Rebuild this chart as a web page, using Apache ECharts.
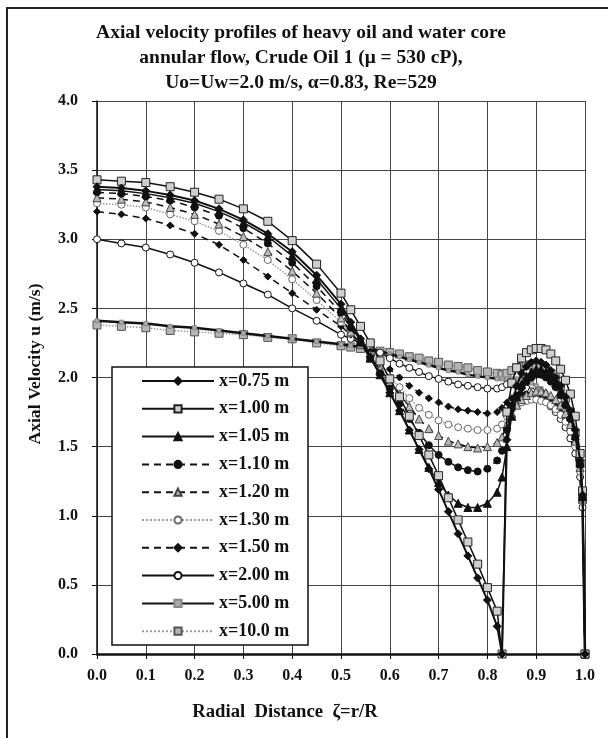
<!DOCTYPE html>
<html>
<head>
<meta charset="utf-8">
<script src="https://cdn.jsdelivr.net/npm/echarts@6/dist/echarts.min.js"></script>
<style>
html,body{margin:0;padding:0;background:#fff;}
#c{width:608px;height:738px;}
</style>
</head>
<body>
<div id="c"></div>
<script>
// Radial positions (zeta = r/R)
const R = [0,0.05,0.10,0.15,0.20,0.25,0.30,0.35,0.40,0.45,0.50,
  0.52,0.54,0.56,0.58,0.60,0.62,0.64,0.66,0.68,0.70,0.72,0.74,0.76,0.78,0.80,0.82,0.83,
  0.84,0.85,0.86,0.87,0.88,0.89,0.90,0.91,0.92,0.93,0.94,0.95,0.96,0.97,0.98,0.99,0.995,1.00];

const legendNames = ['x=0.75 m','x=1.00 m','x=1.05 m','x=1.10 m','x=1.20 m','x=1.30 m','x=1.50 m','x=2.00 m','x=5.00 m','x=10.0 m'];

const u075 = [3.38,3.37,3.35,3.32,3.28,3.22,3.14,3.04,2.91,2.74,2.53,
  2.40,2.28,2.15,2.02,1.89,1.76,1.62,1.48,1.34,1.19,1.03,0.87,0.71,0.55,0.39,0.20,0.00,
  1.55,1.80,1.94,2.03,2.08,2.11,2.12,2.11,2.09,2.05,2.00,1.94,1.86,1.76,1.62,1.40,1.15,0.00];
const u100 = [3.43,3.42,3.41,3.38,3.34,3.29,3.22,3.13,2.99,2.82,2.61,
  2.49,2.37,2.25,2.12,1.99,1.86,1.72,1.58,1.44,1.29,1.13,0.97,0.81,0.65,0.48,0.31,0.00,
  1.75,1.96,2.07,2.14,2.18,2.20,2.21,2.21,2.20,2.17,2.12,2.06,1.98,1.88,1.72,1.45,1.18,0.00];
const u105 = [3.36,3.35,3.33,3.30,3.26,3.20,3.12,3.02,2.88,2.71,2.50,
  2.38,2.26,2.14,2.02,1.89,1.76,1.62,1.48,1.35,1.24,1.15,1.09,1.06,1.06,1.09,1.17,1.28,
  1.50,1.72,1.86,1.95,2.01,2.04,2.06,2.06,2.04,2.01,1.96,1.90,1.82,1.72,1.58,1.38,1.14,0.00];
const u110 = [3.34,3.33,3.31,3.28,3.23,3.17,3.08,2.97,2.83,2.66,2.47,
  2.36,2.25,2.14,2.03,1.92,1.81,1.70,1.60,1.51,1.44,1.39,1.35,1.33,1.32,1.34,1.40,1.47,
  1.62,1.78,1.87,1.93,1.97,2.00,2.02,2.02,2.00,1.97,1.93,1.87,1.80,1.70,1.57,1.37,1.13,0.00];
const u120 = [3.30,3.29,3.27,3.23,3.18,3.11,3.02,2.91,2.77,2.61,2.43,
  2.33,2.24,2.15,2.06,1.97,1.88,1.79,1.70,1.63,1.58,1.54,1.52,1.50,1.49,1.50,1.53,1.57,
  1.66,1.74,1.80,1.84,1.87,1.89,1.90,1.90,1.89,1.87,1.84,1.80,1.74,1.66,1.54,1.35,1.12,0.00];
const u130 = [3.26,3.25,3.23,3.18,3.13,3.06,2.96,2.85,2.71,2.56,2.40,
  2.32,2.24,2.16,2.08,2.00,1.93,1.85,1.78,1.73,1.69,1.66,1.64,1.63,1.62,1.62,1.63,1.66,
  1.72,1.77,1.80,1.82,1.83,1.84,1.84,1.83,1.82,1.80,1.77,1.73,1.68,1.61,1.50,1.32,1.10,0.00];
const u150 = [3.20,3.18,3.15,3.10,3.04,2.96,2.85,2.73,2.61,2.49,2.37,
  2.31,2.25,2.19,2.12,2.06,2.00,1.94,1.89,1.85,1.82,1.79,1.77,1.76,1.75,1.74,1.75,1.78,
  1.82,1.85,1.87,1.88,1.88,1.88,1.87,1.86,1.84,1.82,1.79,1.75,1.70,1.62,1.51,1.33,1.10,0.00];
const u200 = [3.00,2.97,2.94,2.89,2.83,2.76,2.68,2.60,2.50,2.41,2.31,
  2.28,2.25,2.22,2.18,2.14,2.10,2.07,2.04,2.01,1.99,1.97,1.95,1.94,1.93,1.92,1.92,1.93,
  1.95,1.95,1.94,1.93,1.92,1.90,1.88,1.86,1.83,1.79,1.75,1.70,1.64,1.56,1.45,1.28,1.06,0.00];
const u500 = [2.41,2.40,2.39,2.37,2.36,2.34,2.32,2.30,2.28,2.26,2.24,
  2.23,2.22,2.21,2.19,2.17,2.15,2.13,2.11,2.09,2.07,2.05,2.04,2.02,2.01,2.00,1.99,1.99,
  1.99,1.99,1.99,1.98,1.97,1.96,1.94,1.92,1.89,1.85,1.80,1.74,1.67,1.58,1.46,1.28,1.05,0.00];
const u1000 = [2.38,2.37,2.36,2.34,2.33,2.32,2.31,2.29,2.28,2.25,2.23,
  2.22,2.21,2.20,2.19,2.18,2.17,2.15,2.14,2.12,2.11,2.09,2.08,2.07,2.05,2.04,2.03,2.02,
  2.03,2.05,2.07,2.08,2.09,2.09,2.09,2.08,2.06,2.03,1.99,1.93,1.85,1.75,1.60,1.38,1.12,0.00];

const xTicks = ['0.0','0.1','0.2','0.3','0.4','0.5','0.6','0.7','0.8','0.9','1.0'];
const yTicks = ['0.0','0.5','1.0','1.5','2.0','2.5','3.0','3.5','4.0'];

const values = [u075,u100,u105,u110,u120,u130,u150,u200,u500,u1000];
const styles = [
  {symbol:'diamond', size:8, fill:'#111', border:'#111', line:'#111', width:2, type:'solid'},
  {symbol:'rect', size:8, fill:'#cfcfcf', border:'#222', line:'#111', width:1.5, type:'solid'},
  {symbol:'triangle', size:8, fill:'#111', border:'#111', line:'#111', width:1.5, type:'solid'},
  {symbol:'circle', size:7, fill:'#111', border:'#111', line:'#111', width:1.5, type:[7,5]},
  {symbol:'triangle', size:8, fill:'#bbb', border:'#444', line:'#111', width:1.5, type:[7,5]},
  {symbol:'circle', size:7, fill:'#fff', border:'#666', line:'#999', width:1.5, type:'dotted'},
  {symbol:'diamond', size:7, fill:'#111', border:'#111', line:'#111', width:1.5, type:[7,5]},
  {symbol:'circle', size:7, fill:'#fff', border:'#111', line:'#111', width:1.5, type:'solid'},
  {symbol:'rect', size:4, fill:'#aaa', border:'#888', line:'#111', width:2.5, type:'solid'},
  {symbol:'rect', size:8, fill:'#b5b5b5', border:'#555', line:'#999', width:1.5, type:'dotted'}
];

const series = legendNames.map((name, k) => {
  const s = styles[k];
  return {
    name: name,
    type: 'line',
    data: R.map((r, i) => [r, values[k][i]]),
    showAllSymbol: true,
    symbol: s.symbol,
    symbolSize: s.size,
    lineStyle: {color: s.line, width: s.width, type: s.type},
    itemStyle: {color: s.fill, borderColor: s.border, borderWidth: 1},
    z: 20 - k,
    animation: false
  };
});

const serif = '"Liberation Serif","Times New Roman",serif';
const chart = echarts.init(document.getElementById('c'), null, {renderer: 'canvas'});
chart.setOption({
  backgroundColor: '#fff',
  animation: false,
  grid: {left: 97, right: 23, top: 101, bottom: 84, containLabel: false},
  xAxis: {
    type: 'value', min: 0, max: 1, interval: 0.1,
    axisLine: {show: true, lineStyle: {color: '#111', width: 2.5}},
    axisTick: {show: true, length: 5, lineStyle: {color: '#111', width: 1}},
    splitLine: {show: true, lineStyle: {color: '#444', width: 1}},
    axisLabel: {margin: 14, color: '#111', fontFamily: serif, fontWeight: 'bold', fontSize: 16,
      formatter: (v) => xTicks[Math.round(v * 10)]}
  },
  yAxis: {
    type: 'value', min: 0, max: 4, interval: 0.5,
    axisLine: {show: true, lineStyle: {color: '#111', width: 1.5}},
    axisTick: {show: true, length: 5, lineStyle: {color: '#111', width: 1}},
    splitLine: {show: true, lineStyle: {color: '#444', width: 1}},
    axisLabel: {margin: 19, color: '#111', fontFamily: serif, fontWeight: 'bold', fontSize: 16,
      formatter: (v) => yTicks[Math.round(v * 2)]}
  },
  legend: {
    data: legendNames,
    orient: 'vertical',
    left: 141, top: 372,
    padding: 0,
    itemWidth: 72, itemHeight: 9, itemGap: 9.8,
    backgroundColor: 'transparent',
    textStyle: {fontFamily: serif, fontSize: 18, fontWeight: 'bold', color: '#111'},
    z: 30
  },
  graphic: [
    {type: 'rect', z: 0, silent: true,
      shape: {x: 7, y: 8, width: 700, height: 800},
      style: {fill: 'none', stroke: '#222', lineWidth: 2}},
    {type: 'rect', z: 25, silent: true,
      shape: {x: 112, y: 367, width: 196, height: 278},
      style: {fill: '#fff', stroke: '#111', lineWidth: 1.5}},
    {type: 'text', z: 30, silent: true, x: 301, y: 20,
      style: {text: 'Axial velocity profiles of heavy oil and water core\nannular flow, Crude Oil 1 (\u03bc = 530 cP),\nUo=Uw=2.0 m/s, \u03b1=0.83, Re=529',
        font: 'bold 19.5px ' + serif, fill: '#111', textAlign: 'center', textVerticalAlign: 'top', lineHeight: 25}},
    {type: 'text', z: 30, silent: true, x: 35, y: 364, rotation: Math.PI / 2,
      style: {text: 'Axial Velocity u (m/s)', font: 'bold 17.6px ' + serif, fill: '#111',
        textAlign: 'center', textVerticalAlign: 'middle'}},
    {type: 'text', z: 30, silent: true, x: 285, y: 712,
      style: {text: 'Radial  Distance  \u03b6=r/R', font: 'bold 18.7px ' + serif, fill: '#111',
        textAlign: 'center', textVerticalAlign: 'middle'}}
  ],
  series: series
});
</script>
</body>
</html>
